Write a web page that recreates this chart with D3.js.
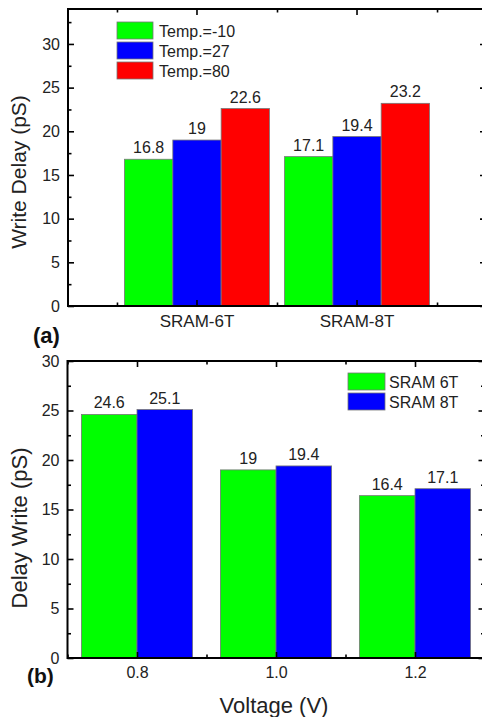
<!DOCTYPE html>
<html>
<head>
<meta charset="utf-8">
<script src="https://cdn.jsdelivr.net/npm/d3@7"></script>
<style>
  body { margin:0; background:#fff; }
  svg { display:block; font-family:"Liberation Sans", Arial, sans-serif; }
</style>
</head>
<body>
<div id="chart-area"></div>
<script>
//Data - panel (a)
var categories = ["SRAM-6T", "SRAM-8T"];
var tempNames = ["Temp.=-10", "Temp.=27", "Temp.=80"];
var tempM10 = [16.8, 17.1];
var temp27 = [19, 19.4];
var temp80 = [22.6, 23.2];
var yTicksA = [0, 5, 10, 15, 20, 25, 30];

//Data - panel (b)
var voltages = [0.8, 1.0, 1.2];
var sramNames = ["SRAM 6T", "SRAM 8T"];
var sram6T = [24.6, 19, 16.4];
var sram8T = [25.1, 19.4, 17.1];
var yTicksB = [0, 5, 10, 15, 20, 25, 30];
var xTicksB = [0.8, 1.0, 1.2];

var colors = ["#00ff00", "#0000ff", "#ff0000"];

var W = 482, H = 717;
var svg = d3.select("#chart-area").append("svg")
    .attr("width", W).attr("height", H);

//helper: axis styling
function styleAxis(g, size){
    g.select(".domain").remove()
    g.selectAll("line").attr("stroke", "#000").attr("stroke-width", 1.6)
    g.selectAll("text").attr("font-size", size + "px").attr("fill", "#222")
        .attr("font-family", "Liberation Sans, Arial, sans-serif")
}

// ---------------- Panel (a) ----------------
var a = {left:68, right:486, top:9, bottom:306}

var xA = d3.scaleBand()
    .domain(categories)
    .range([a.left, a.right])
    .paddingInner(0.094)
    .paddingOuter(0.353)

var xSubA = d3.scaleBand()
    .domain(tempNames)
    .range([0, xA.bandwidth()])

var yA = d3.scaleLinear()
    .domain([0, 34])
    .range([a.bottom, a.top])

var seriesA = [tempM10, temp27, temp80]

var gA = svg.append("g")

seriesA.forEach((vals, si)=>{
    gA.selectAll(".barA" + si)
        .data(vals)
        .enter().append("rect")
        .attr("x", (d,i)=> xA(categories[i]) + xSubA(tempNames[si]))
        .attr("y", d=> yA(d))
        .attr("width", xSubA.bandwidth())
        .attr("height", d=> yA(0) - yA(d))
        .attr("fill", colors[si])
        .attr("stroke", "#777")
        .attr("stroke-width", 0.8)

    gA.selectAll(".lblA" + si)
        .data(vals)
        .enter().append("text")
        .attr("x", (d,i)=> xA(categories[i]) + xSubA(tempNames[si]) + xSubA.bandwidth()/2)
        .attr("y", d=> yA(d) - 6)
        .attr("text-anchor", "middle")
        .attr("font-size", "16px")
        .attr("fill", "#222")
        .text(d=> d)
})

//minor tick positions between categories
var minorXA = [xA(categories[0]) + xA.bandwidth()/2 - xA.step()/2]
categories.forEach(c=> minorXA.push(xA(c) + xA.bandwidth()/2 + xA.step()/2))
var minorYA = d3.range(2.5, 34, 5)

//left axis
var yAxisA = gA.append("g").attr("transform", "translate(" + a.left + ",0)")
    .call(d3.axisLeft(yA).tickValues(yTicksA).tickSizeInner(-6).tickSizeOuter(0).tickPadding(8))
styleAxis(yAxisA, 16)
var yMinA = gA.append("g").attr("transform", "translate(" + a.left + ",0)")
    .call(d3.axisLeft(yA).tickValues(minorYA).tickSize(-3.5).tickFormat(""))
styleAxis(yMinA, 16)
//right axis
var yAxisAR = gA.append("g").attr("transform", "translate(" + a.right + ",0)")
    .call(d3.axisRight(yA).tickValues(yTicksA).tickSize(-6).tickFormat(""))
styleAxis(yAxisAR, 16)
var yMinAR = gA.append("g").attr("transform", "translate(" + a.right + ",0)")
    .call(d3.axisRight(yA).tickValues(minorYA).tickSize(-3.5).tickFormat(""))
styleAxis(yMinAR, 16)

//bottom axis
var xAxisA = gA.append("g").attr("transform", "translate(0," + a.bottom + ")")
    .call(d3.axisBottom(xA).tickSizeInner(-6).tickSizeOuter(0).tickPadding(9))
styleAxis(xAxisA, 17)
var xLinA = d3.scaleLinear().domain([a.left, a.right]).range([a.left, a.right])
var xMinA = gA.append("g").attr("transform", "translate(0," + a.bottom + ")")
    .call(d3.axisBottom(xLinA).tickValues(minorXA).tickSize(-3.5).tickFormat(""))
styleAxis(xMinA, 16)
//top axis
var xAxisAT = gA.append("g").attr("transform", "translate(0," + a.top + ")")
    .call(d3.axisTop(xA).tickSize(-6).tickFormat(""))
styleAxis(xAxisAT, 16)
var xMinAT = gA.append("g").attr("transform", "translate(0," + a.top + ")")
    .call(d3.axisTop(xLinA).tickValues(minorXA).tickSize(-3.5).tickFormat(""))
styleAxis(xMinAT, 16)

//frame
gA.append("rect")
    .attr("x", a.left).attr("y", a.top)
    .attr("width", a.right - a.left).attr("height", a.bottom - a.top)
    .attr("fill", "none").attr("stroke", "#000").attr("stroke-width", 2)

//y label
gA.append("text")
    .attr("transform", "translate(26," + 172 + ") rotate(-90)")
    .attr("text-anchor", "middle")
    .attr("font-size", "21px")
    .attr("fill", "#222")
    .text("Write Delay (pS)")

//legend
var legA = gA.append("g").attr("transform", "translate(117,22)")
tempNames.forEach((n, i)=>{
    legA.append("rect")
        .attr("x", 0).attr("y", i*20)
        .attr("width", 36).attr("height", 17)
        .attr("fill", colors[i]).attr("stroke", "#777").attr("stroke-width", 0.8)
    legA.append("text")
        .attr("x", 42).attr("y", i*20 + 14.5)
        .attr("font-size", "16px").attr("fill", "#222")
        .text(n)
})

svg.append("text")
    .attr("x", 33).attr("y", 343)
    .attr("font-size", "22px").attr("font-weight", "bold")
    .attr("fill", "#111")
    .text("(a)")

// ---------------- Panel (b) ----------------
var b = {left:67.5, right:484.5, top:361, bottom:658}
var barW = 0.08

var xB = d3.scaleLinear()
    .domain([0.7, 1.3])
    .range([b.left, b.right])

var yB = d3.scaleLinear()
    .domain([0, 30])
    .range([b.bottom, b.top])

var seriesB = [sram6T, sram8T]
var gB = svg.append("g")

seriesB.forEach((vals, si)=>{
    gB.selectAll(".barB" + si)
        .data(vals)
        .enter().append("rect")
        .attr("x", (d,i)=> xB(voltages[i] + (si - 1) * barW))
        .attr("y", d=> yB(d))
        .attr("width", xB(barW) - xB(0))
        .attr("height", d=> yB(0) - yB(d))
        .attr("fill", colors[si])
        .attr("stroke", "#777")
        .attr("stroke-width", 0.8)

    gB.selectAll(".lblB" + si)
        .data(vals)
        .enter().append("text")
        .attr("x", (d,i)=> xB(voltages[i] + (si - 0.5) * barW))
        .attr("y", d=> yB(d) - 6)
        .attr("text-anchor", "middle")
        .attr("font-size", "16px")
        .attr("fill", "#222")
        .text(d=> d)
})

var minorXB = [0.7, 0.9, 1.1, 1.3]
var minorYB = d3.range(2.5, 30, 5)

var yAxisB = gB.append("g").attr("transform", "translate(" + b.left + ",0)")
    .call(d3.axisLeft(yB).tickValues(yTicksB).tickSizeInner(-6).tickSizeOuter(0).tickPadding(8))
styleAxis(yAxisB, 16)
var yMinB = gB.append("g").attr("transform", "translate(" + b.left + ",0)")
    .call(d3.axisLeft(yB).tickValues(minorYB).tickSize(-3.5).tickFormat(""))
styleAxis(yMinB, 16)
var yAxisBR = gB.append("g").attr("transform", "translate(" + b.right + ",0)")
    .call(d3.axisRight(yB).tickValues(yTicksB).tickSize(-6).tickFormat(""))
styleAxis(yAxisBR, 16)
var yMinBR = gB.append("g").attr("transform", "translate(" + b.right + ",0)")
    .call(d3.axisRight(yB).tickValues(minorYB).tickSize(-3.5).tickFormat(""))
styleAxis(yMinBR, 16)

var xAxisB = gB.append("g").attr("transform", "translate(0," + b.bottom + ")")
    .call(d3.axisBottom(xB).tickValues(xTicksB).tickFormat(d3.format(".1f")).tickSizeInner(-6).tickSizeOuter(0).tickPadding(9))
styleAxis(xAxisB, 16)
var xMinB = gB.append("g").attr("transform", "translate(0," + b.bottom + ")")
    .call(d3.axisBottom(xB).tickValues(minorXB).tickSize(-3.5).tickFormat(""))
styleAxis(xMinB, 16)
var xAxisBT = gB.append("g").attr("transform", "translate(0," + b.top + ")")
    .call(d3.axisTop(xB).tickValues(xTicksB).tickSize(-6).tickFormat(""))
styleAxis(xAxisBT, 16)
var xMinBT = gB.append("g").attr("transform", "translate(0," + b.top + ")")
    .call(d3.axisTop(xB).tickValues(minorXB).tickSize(-3.5).tickFormat(""))
styleAxis(xMinBT, 16)

gB.append("rect")
    .attr("x", b.left).attr("y", b.top)
    .attr("width", b.right - b.left).attr("height", b.bottom - b.top)
    .attr("fill", "none").attr("stroke", "#000").attr("stroke-width", 2)

gB.append("text")
    .attr("transform", "translate(27," + 528 + ") rotate(-90)")
    .attr("text-anchor", "middle")
    .attr("font-size", "22px")
    .attr("fill", "#222")
    .text("Delay Write (pS)")

gB.append("text")
    .attr("x", (b.left + b.right)/2 - 2).attr("y", 713)
    .attr("text-anchor", "middle")
    .attr("font-size", "22px")
    .attr("fill", "#222")
    .text("Voltage (V)")

var legB = gB.append("g").attr("transform", "translate(348,373)")
sramNames.forEach((n, i)=>{
    legB.append("rect")
        .attr("x", 0).attr("y", i*20)
        .attr("width", 37).attr("height", 17)
        .attr("fill", colors[i]).attr("stroke", "#777").attr("stroke-width", 0.8)
    legB.append("text")
        .attr("x", 41).attr("y", i*20 + 14.5)
        .attr("font-size", "16px").attr("fill", "#222")
        .text(n)
})

svg.append("text")
    .attr("x", 27).attr("y", 683)
    .attr("font-size", "21px").attr("font-weight", "bold")
    .attr("fill", "#111")
    .text("(b)")
</script>
</body>
</html>
